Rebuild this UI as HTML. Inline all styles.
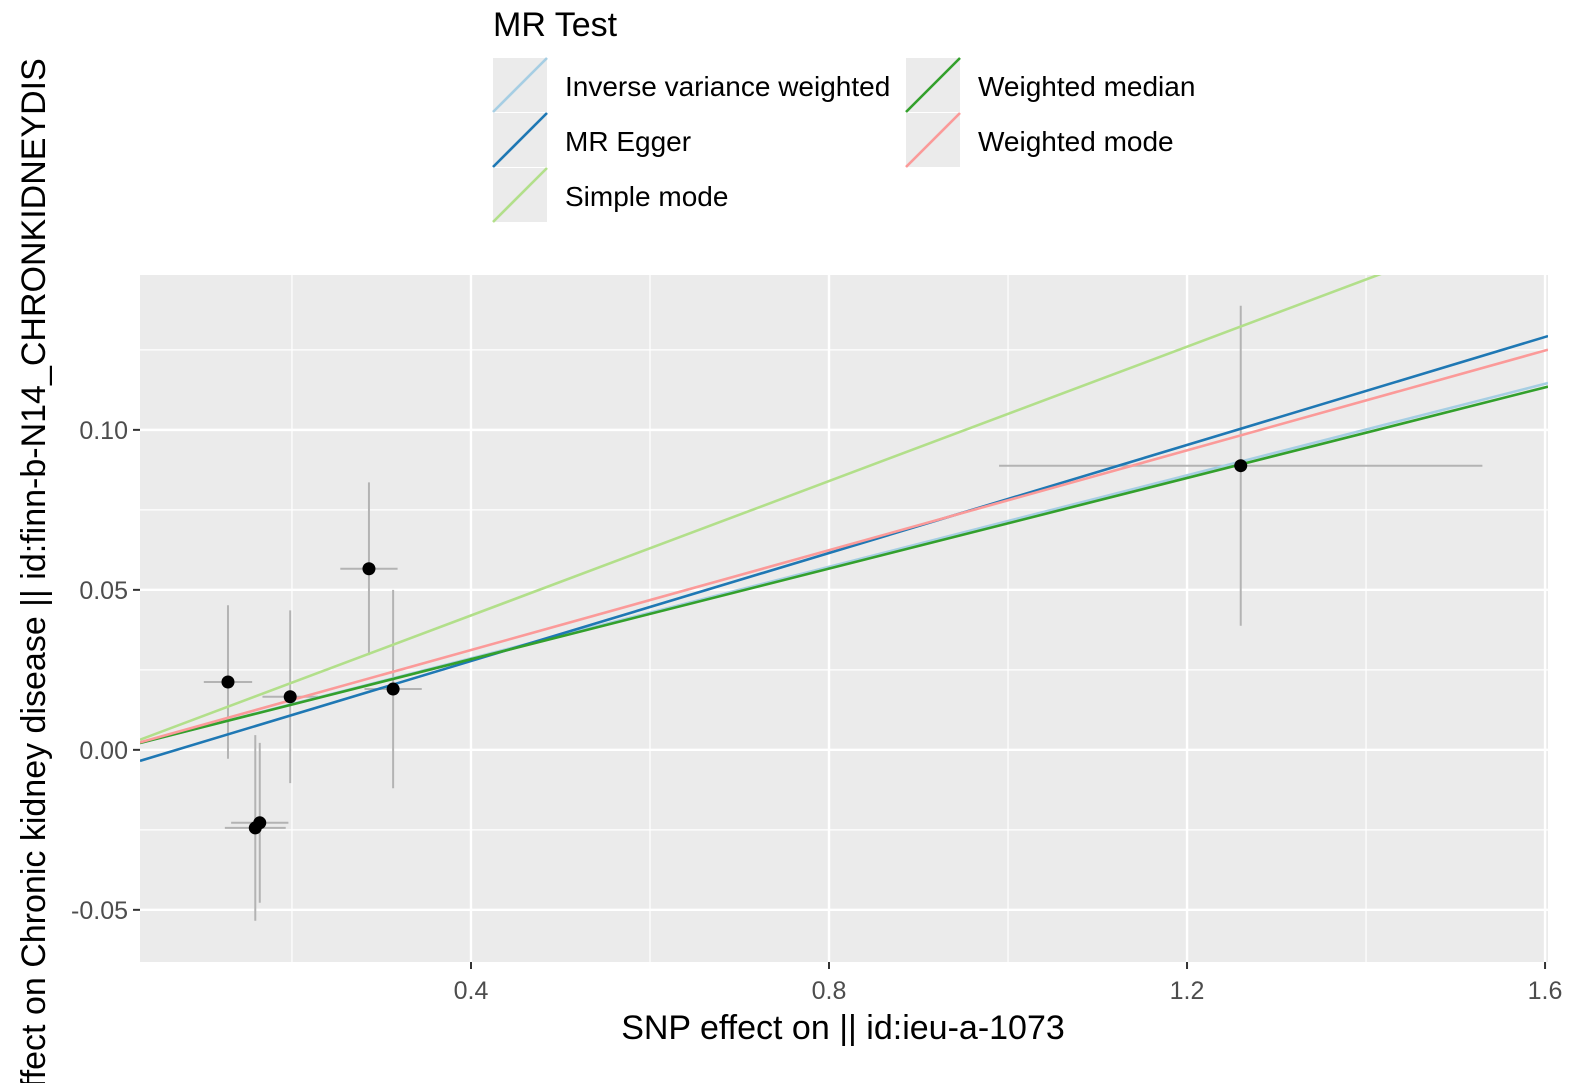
<!DOCTYPE html>
<html><head><meta charset="utf-8">
<style>
html,body{margin:0;padding:0;background:#fff;overflow:hidden;}
svg{display:block;font-family:"Liberation Sans",Arial,sans-serif;}
</style></head>
<body>
<svg id="chart" width="1595" height="1083" viewBox="0 0 1595 1083">
  <defs><clipPath id="frame"><rect x="0" y="0" width="1595" height="1083"/></clipPath></defs>
  <rect x="140" y="275" width="1408" height="687" fill="#ebebeb"/>
  <g id="grid"></g>
  <g id="errs"></g>
  <g id="lines"></g>
  <g id="pts"></g>
  <g id="ticks"></g>
  <text x="843" y="1039" font-size="34" text-anchor="middle" fill="#000">SNP effect on  || id:ieu-a-1073</text>
  <g clip-path="url(#frame)">
  <text transform="translate(45,622) rotate(-90)" font-size="34" text-anchor="middle" fill="#000">SNP effect on Chronic kidney disease || id:finn-b-N14_CHRONKIDNEYDIS</text>
  </g>
  <g id="legend">
    <text x="493" y="36" font-size="34" fill="#000">MR Test</text>
  </g>
</svg>
<script>
const xTicks=[0.4,0.8,1.2,1.6];
const xMinor=[0.2,0.6,1.0,1.4];
const yTicks=[0.10,0.05,0.00,-0.05];
const yTickLabels=["0.10","0.05","0.00","-0.05"];
const yMinor=[0.125,0.075,0.025,-0.025];
const snpX=[0.1285,0.198,0.286,0.313,0.159,0.164,1.260];
const snpY=[0.0212,0.0166,0.0566,0.019,-0.0244,-0.0228,0.0888];
const snpXse=[0.027,0.031,0.032,0.032,0.034,0.032,0.27];
const snpYse=[0.024,0.027,0.027,0.031,0.029,0.025,0.050];
const methods=["Inverse variance weighted","MR Egger","Simple mode","Weighted median","Weighted mode"];
const slopes=[0.0715,0.0844,0.105,0.0708,0.078];
const intercepts=[0,-0.006,0,0,0];
const colors=["#a6cee3","#1f78b4","#b2df8a","#33a02c","#fb9a99"];

const X0=140,X1=1548,Y0=275,Y1=962;
const xMin=0.0302,xMax=1.6033,yMin=-0.0663,yMax=0.1484;
const sx=v=>X0+(v-xMin)/(xMax-xMin)*(X1-X0);
const sy=v=>Y1-(v-yMin)/(yMax-yMin)*(Y1-Y0);
const NS="http://www.w3.org/2000/svg";
function mk(tag,attrs,parent){const e=document.createElementNS(NS,tag);for(const k in attrs)e.setAttribute(k,attrs[k]);parent.appendChild(e);return e;}
const grid=document.getElementById('grid'),ticks=document.getElementById('ticks');
xMinor.forEach(v=>{const l=mk('line',{x1:sx(v),x2:sx(v),y1:Y0,y2:Y1,stroke:'#fff','stroke-width':1.2},grid);

});
yMinor.forEach(v=>{const l=mk('line',{x1:X0,x2:X1,y1:sy(v),y2:sy(v),stroke:'#fff','stroke-width':1.2},grid);

});
xTicks.forEach(v=>{const l=mk('line',{x1:sx(v),x2:sx(v),y1:Y0,y2:Y1,stroke:'#fff','stroke-width':2.4},grid);


const t=mk('line',{x1:sx(v),x2:sx(v),y1:Y1,y2:Y1+7,stroke:'#333','stroke-width':2},ticks);


const tx=mk('text',{x:sx(v),y:Y1+37,'font-size':25,'text-anchor':'middle',fill:'#4d4d4d'},ticks);
tx.textContent=v.toFixed(1);

});
yTicks.forEach((v,i)=>{const l=mk('line',{x1:X0,x2:X1,y1:sy(v),y2:sy(v),stroke:'#fff','stroke-width':2.4},grid);


const t=mk('line',{x1:X0-7,x2:X0,y1:sy(v),y2:sy(v),stroke:'#333','stroke-width':2},ticks);


const tx=mk('text',{x:X0-12,y:sy(v)+9,'font-size':25,'text-anchor':'end',fill:'#4d4d4d'},ticks);
tx.textContent=yTickLabels[i];

});
const errs=document.getElementById('errs'),pts=document.getElementById('pts'),lines=document.getElementById('lines');
snpX.forEach((x,i)=>{const y=snpY[i];
const v=mk('line',{x1:sx(x),x2:sx(x),y1:sy(y-snpYse[i]),y2:sy(y+snpYse[i]),stroke:'#b3b3b3','stroke-width':2},errs);


const h=mk('line',{x1:sx(x-snpXse[i]),x2:sx(x+snpXse[i]),y1:sy(y),y2:sy(y),stroke:'#b3b3b3','stroke-width':2},errs);


const c=mk('circle',{cx:sx(x),cy:sy(y),r:6.5,fill:'#000'},pts);

});
const cp=mk('clipPath',{id:'pc'},document.getElementById('chart'));
mk('rect',{x:X0,y:Y0,width:X1-X0,height:Y1-Y0},cp);
lines.setAttribute('clip-path','url(#pc)');
slopes.forEach((b,i)=>{const a=intercepts[i];
const l=mk('line',{x1:sx(xMin),y1:sy(a+b*xMin),x2:sx(xMax),y2:sy(a+b*xMax),stroke:colors[i],'stroke-width':2.6},lines);

});
const leg=document.getElementById('legend');
const pos=[[493,58],[493,113],[493,168],[906,58],[906,113]];
methods.forEach((m,i)=>{const [x,y]=pos[i];
const g=mk('g',{},leg);


mk('rect',{x:x,y:y,width:54,height:54,fill:'#ebebeb'},g);
mk('line',{x1:x,y1:y+54,x2:x+54,y2:y,stroke:colors[i],'stroke-width':2.6},g);
const t=mk('text',{x:x+72,y:y+38,'font-size':28,fill:'#000'},g);
t.textContent=m;});
</script>
</body></html>
